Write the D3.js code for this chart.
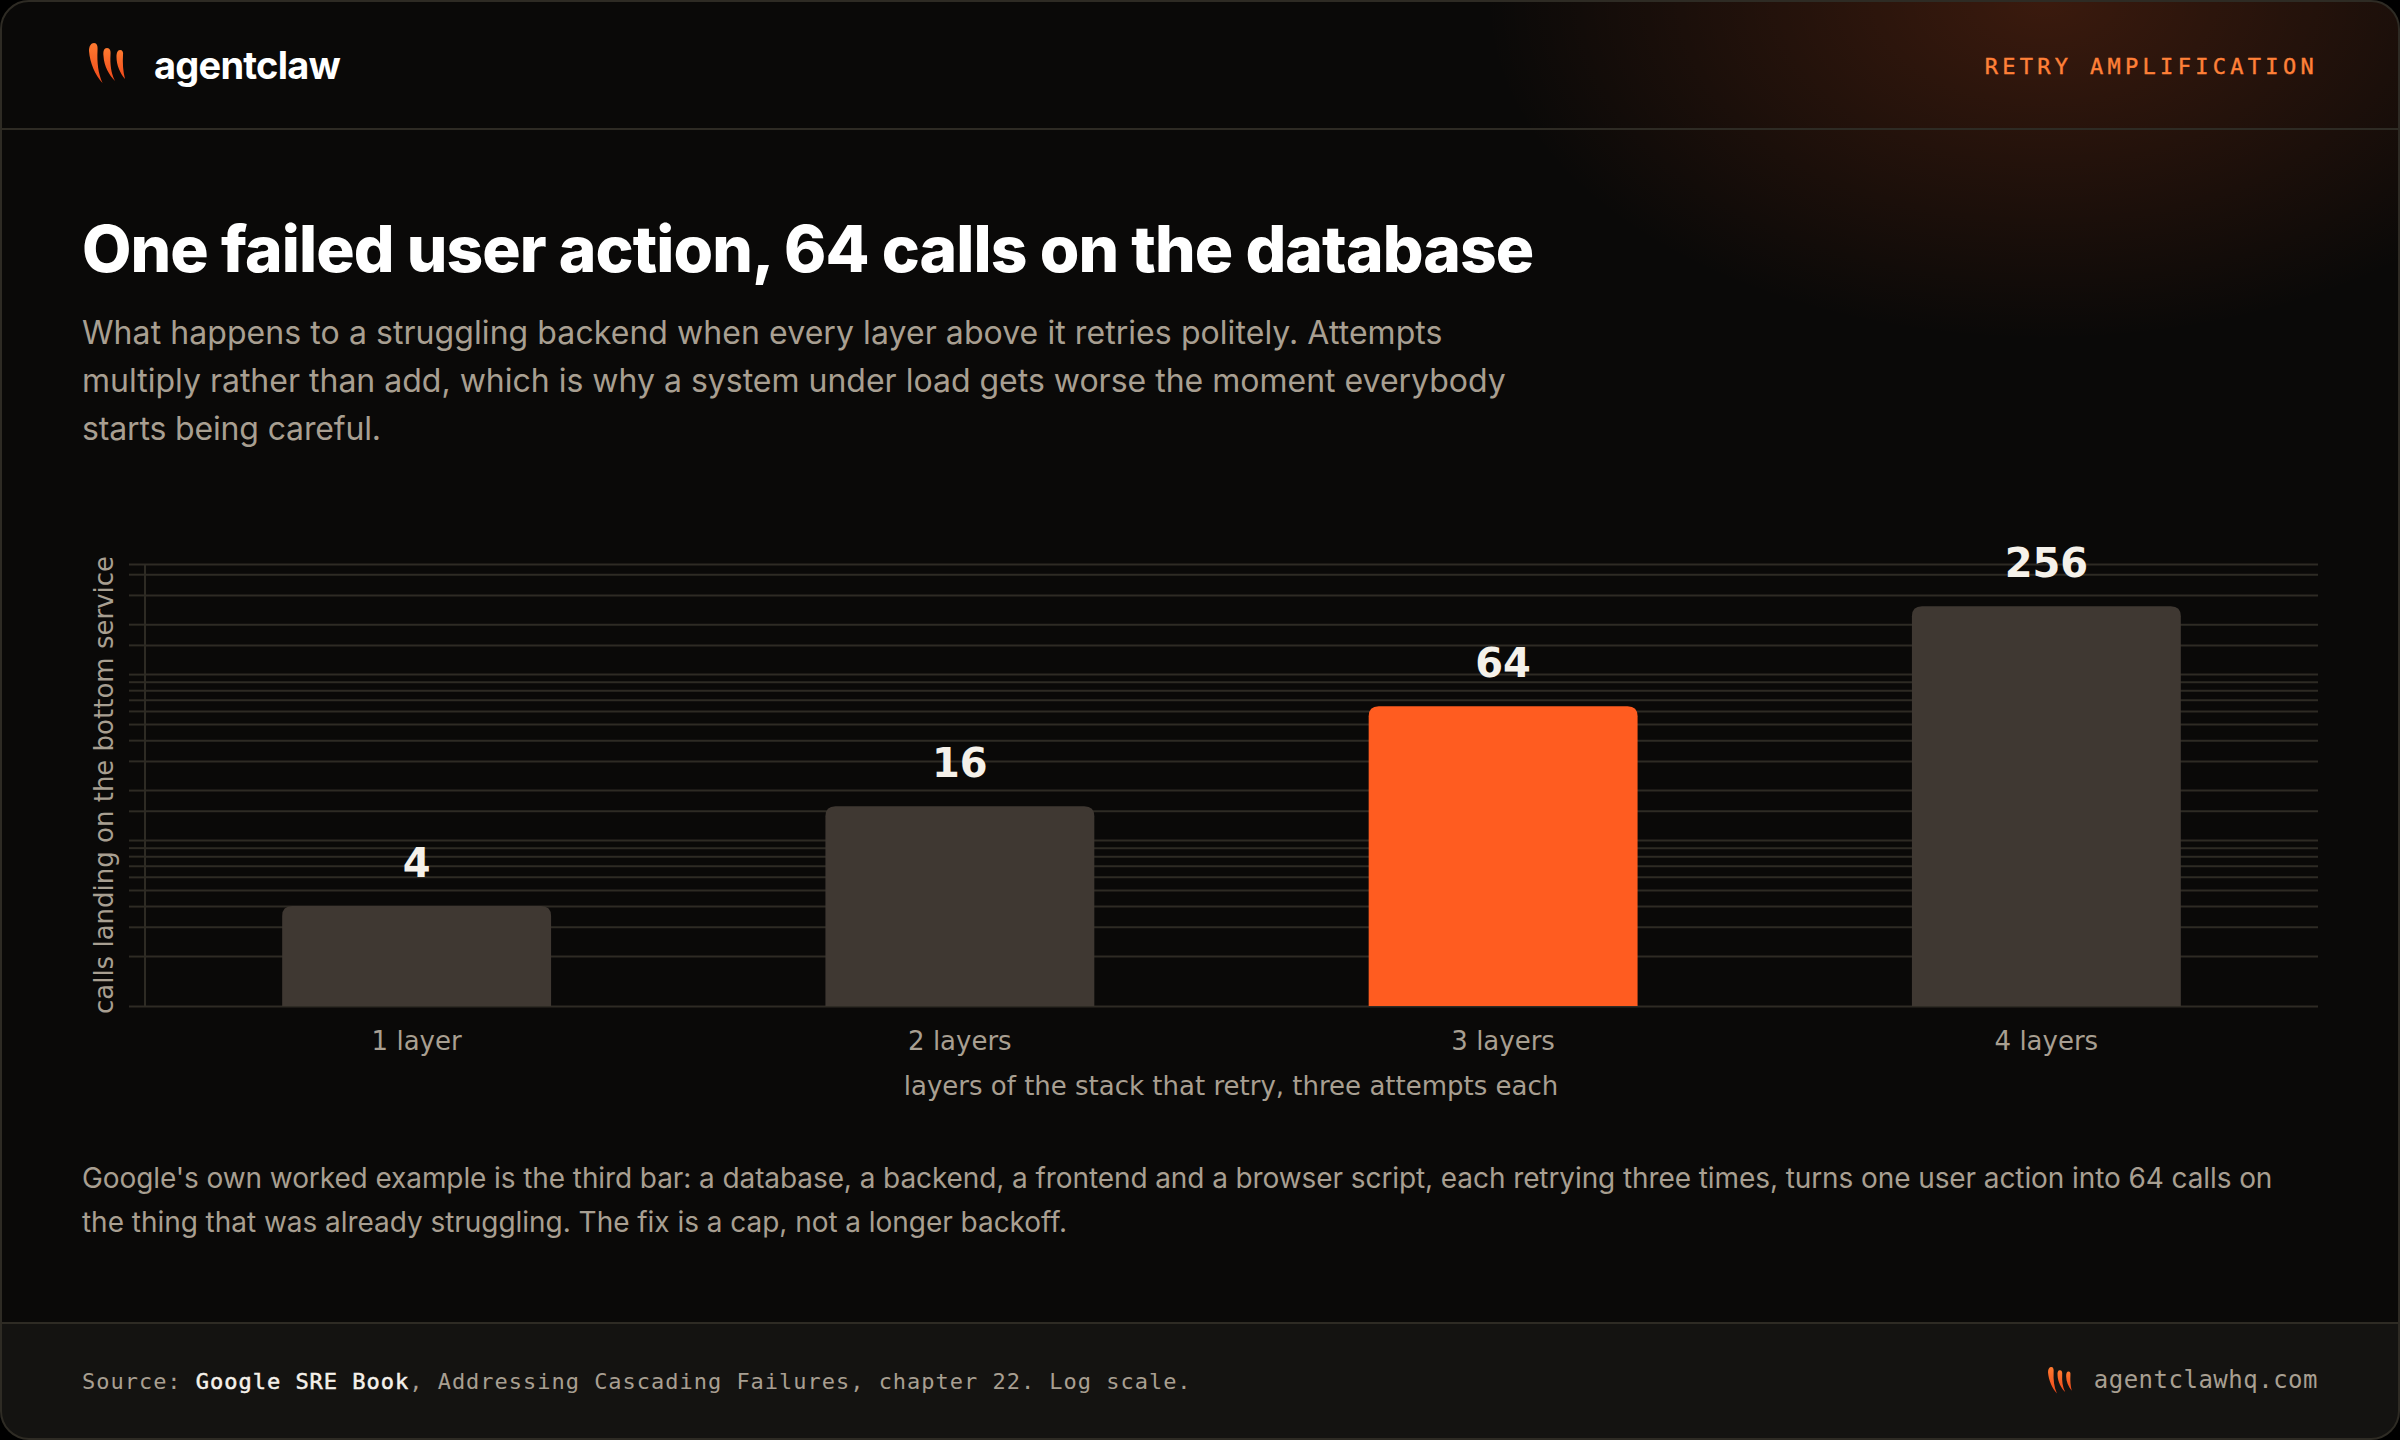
<!DOCTYPE html>
<html>
<head>
<meta charset="utf-8">
<script src="https://cdn.jsdelivr.net/npm/d3@7"></script>
<style>
  html, body { margin: 0; padding: 0; background: #000; }
  body { position: relative; width: 2400px; height: 1440px; overflow: hidden; }
  svg { display: block; position: absolute; left: 0; top: 0; }
  .label { position: absolute; white-space: pre; font-family: Inter, sans-serif; }
  .mono { font-family: "DejaVu Sans Mono", monospace; }
  .chart text { font-family: "DejaVu Sans", sans-serif; }
</style>
</head>
<body>
<script>
const layers = ['1 layer', '2 layers', '3 layers', '4 layers'];
const calls = [4, 16, 64, 256];
const highlightLayer = '3 layers';
const logTicks = [
  1, 2, 3, 4, 5, 6, 7, 8, 9,
  10, 15, 20, 30, 40, 50, 60, 70, 80, 90,
  100, 150, 200, 300, 400, 460.8
];
const subtitleLines = [
  'What happens to a struggling backend when every layer above it retries politely. Attempts',
  'multiply rather than add, which is why a system under load gets worse the moment everybody',
  'starts being careful.'
];
const noteLines = [
  "Google's own worked example is the third bar: a database, a backend, a frontend and a browser script, each retrying three times, turns one user action into 64 calls on",
  'the thing that was already struggling. The fix is a cap, not a longer backoff.'
];

const WIDTH = 2400;
const HEIGHT = 1440;
const CARD = '#0a0908';
const LINE = '#2e2b24';
const MUTED = '#a89f91';
const BRIGHT = '#f5f1ea';
const ORANGE = '#ff5c20';
const BAR = '#3f3832';

const svg = d3.select('body').append('svg')
  .attr('width', WIDTH)
  .attr('height', HEIGHT);

const defs = svg.append('defs');

const glow = defs.append('radialGradient')
  .attr('id', 'glow')
  .attr('gradientUnits', 'userSpaceOnUse')
  .attr('cx', 0).attr('cy', 0).attr('r', 1)
  .attr('gradientTransform', 'translate(2045,0) scale(560,340)');
glow.append('stop').attr('offset', 0).attr('stop-color', '#ff5f24').attr('stop-opacity', 0.2);
glow.append('stop').attr('offset', 1).attr('stop-color', '#ff5f24').attr('stop-opacity', 0);

const clawFill = defs.append('linearGradient')
  .attr('id', 'claw')
  .attr('x1', 0).attr('y1', 0).attr('x2', 0).attr('y2', 1);
clawFill.append('stop').attr('offset', 0).attr('stop-color', '#ff7a30');
clawFill.append('stop').attr('offset', 1).attr('stop-color', '#f0481a');

defs.append('clipPath').attr('id', 'card-clip')
  .append('rect')
  .attr('x', 1).attr('y', 1)
  .attr('width', WIDTH - 2).attr('height', HEIGHT - 2)
  .attr('rx', 28);

// card
const card = svg.append('g').attr('clip-path', 'url(#card-clip)');
card.append('rect').attr('width', WIDTH).attr('height', HEIGHT).attr('fill', CARD);
card.append('rect').attr('width', WIDTH).attr('height', 400).attr('fill', 'url(#glow)');
card.append('rect').attr('y', 1323).attr('width', WIDTH).attr('height', 117).attr('fill', '#141311');
card.append('rect').attr('y', 128).attr('width', WIDTH).attr('height', 2).attr('fill', LINE);
card.append('rect').attr('y', 1322).attr('width', WIDTH).attr('height', 2).attr('fill', LINE);

svg.append('rect')
  .attr('x', 1).attr('y', 1)
  .attr('width', WIDTH - 2).attr('height', HEIGHT - 2)
  .attr('rx', 28)
  .attr('fill', 'none')
  .attr('stroke', LINE)
  .attr('stroke-width', 2);

function drawClaws (x, y, k) {
  const g = svg.append('g').attr('transform', `translate(${x},${y}) scale(${k})`);
  g.append('path').attr('fill', 'url(#claw)')
    .attr('d', 'M5 0 C8 0 9 3 8.5 8 C8 19 9 30 13.5 40 C6 32 1 20 0 8 C0 3 2 0 5 0 Z');
  g.append('path').attr('fill', 'url(#claw)')
    .attr('d', 'M18 5 C21 5 22 8 21.5 12 C21 21 22 30 26 38 C20 32 15 23 14.5 13 C14 8 15 5 18 5 Z');
  g.append('path').attr('fill', 'url(#claw)')
    .attr('d', 'M31 7 C33.5 7 34.5 9 34 12 C33.5 20 34 28 36 36 C31 30 27.5 22 27.5 14 C27.5 10 28.5 7 31 7 Z');
}

// html text, one line box each
function addLabel (text, opts) {
  const div = d3.select('body').append('div')
    .attr('class', 'label' + (opts.mono ? ' mono' : ''))
    .style('top', `${opts.y}px`)
    .style('line-height', `${opts.lineHeight}px`)
    .style('font-size', `${opts.size}px`)
    .style('font-weight', opts.weight || 400)
    .style('letter-spacing', `${opts.spacing || 0}px`)
    .style('color', opts.color)
    .text(text);
  if (opts.right !== undefined) {
    div.style('right', `${WIDTH - opts.right}px`);
  } else {
    div.style('left', `${opts.x}px`);
  }
  return div;
}

// header
drawClaws(89, 43, 1);
addLabel('agentclaw', { x: 154, y: 41, lineHeight: 48, size: 38, weight: 700, spacing: -0.76, color: '#fff' });
addLabel('RETRY AMPLIFICATION', { mono: true, right: 2318, y: 51, lineHeight: 32, size: 22, spacing: 4.3, color: '#ff8038' })
  .style('-webkit-text-stroke', '0.4px #ff8038');

// title block
addLabel('One failed user action, 64 calls on the database', { x: 82, y: 209, lineHeight: 80, size: 64, weight: 800, spacing: -0.9, color: '#fff' });

const subtitleSpacing = [0.07, 0, -0.15];
subtitleLines.forEach((line, i) => {
  addLabel(line, { x: 82, y: 309 + i * 48, lineHeight: 48, size: 32, spacing: subtitleSpacing[i], color: MUTED });
});

// chart
const x = d3.scaleBand()
  .domain(layers)
  .range([145, 2318])
  .paddingInner(0.505)
  .paddingOuter(0.2525);
const y = d3.scaleLog()
  .domain([1, 460.8])
  .range([1006, 564]);

const chart = svg.append('g').attr('class', 'chart');

const grid = chart.append('g')
  .attr('transform', 'translate(145,0)')
  .call(d3.axisRight(y).tickValues(logTicks).tickSize(2318 - 145).tickFormat(''));
grid.select('.domain').remove();

const yAxis = chart.append('g')
  .attr('transform', 'translate(145,0)')
  .call(d3.axisLeft(y).tickValues(logTicks).tickSize(16).tickFormat(''));
chart.selectAll('.tick line, .domain')
  .attr('stroke', LINE)
  .attr('stroke-width', 2);
yAxis.select('.domain').attr('d', `M0,${y(1)}V${y(460.8)}`);

const r = 10;
chart.append('g').selectAll('path')
  .data(layers)
  .join('path')
  .attr('fill', d => d === highlightLayer ? ORANGE : BAR)
  .attr('d', (d, i) => {
    const left = x(d);
    const right = left + x.bandwidth();
    const top = y(calls[i]);
    return `M${left},${y(1)}V${top + r}Q${left},${top} ${left + r},${top}H${right - r}Q${right},${top} ${right},${top + r}V${y(1)}Z`;
  });

chart.append('g').selectAll('text')
  .data(layers)
  .join('text')
  .attr('x', d => x(d) + x.bandwidth() / 2)
  .attr('y', (d, i) => y(calls[i]) - 29)
  .attr('text-anchor', 'middle')
  .attr('font-size', 40)
  .attr('font-weight', 700)
  .attr('fill', BRIGHT)
  .text((d, i) => calls[i]);

const xAxis = chart.append('g')
  .attr('transform', 'translate(0,1006)')
  .call(d3.axisBottom(x).tickSize(0).tickPadding(0));
xAxis.select('.domain').remove();
xAxis.selectAll('text')
  .attr('y', 44)
  .attr('dy', 0)
  .attr('font-size', 26)
  .attr('fill', MUTED);

chart.append('text')
  .attr('x', 1231).attr('y', 1095)
  .attr('text-anchor', 'middle')
  .attr('font-size', 26)
  .attr('fill', MUTED)
  .text('layers of the stack that retry, three attempts each');

chart.append('text')
  .attr('transform', 'translate(113,785) rotate(-90)')
  .attr('text-anchor', 'middle')
  .attr('font-size', 26)
  .attr('fill', MUTED)
  .text('calls landing on the bottom service');

// note under the chart
const noteSpacing = [-0.09, -0.04];
noteLines.forEach((line, i) => {
  addLabel(line, { x: 82, y: 1156 + i * 44, lineHeight: 44, size: 28, spacing: noteSpacing[i], color: MUTED });
});

// footer
const source = addLabel('', { mono: true, x: 82, y: 1364, lineHeight: 36, size: 22, spacing: 0.98, color: MUTED });
source.append('span').text('Source: ');
source.append('span')
  .style('color', BRIGHT)
  .style('-webkit-text-stroke', `0.5px ${BRIGHT}`)
  .text('Google SRE Book');
source.append('span').text(', Addressing Cascading Failures, chapter 22. Log scale.');

drawClaws(2048, 1367, 0.66);
addLabel('agentclawhq.com', { mono: true, right: 2318, y: 1362, lineHeight: 36, size: 24, spacing: 0.5, color: MUTED });
</script>
</body>
</html>
